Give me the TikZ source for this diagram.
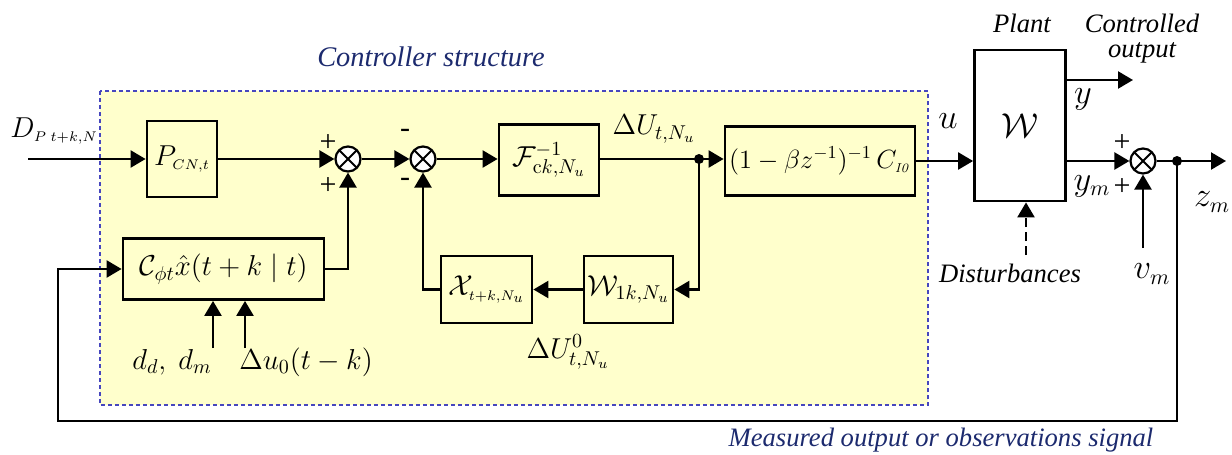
\documentclass[tikz,border=0pt]{standalone}
\usepackage[no-math]{fontspec}
\usepackage{graphicx}
\setmainfont{Liberation Serif}
\usetikzlibrary{arrows.meta}
\definecolor{boxfill}{RGB}{255,255,204}
\definecolor{dashblue}{RGB}{70,70,190}
\definecolor{navy}{RGB}{28,42,110}
\newcommand\mfont{\fontsize{14.5}{17}\selectfont}
\newcommand\lfont{\fontsize{13.3}{15}\selectfont\itshape}
\begin{document}
\begin{tikzpicture}[x=0.5pt,y=-0.5pt,
  blk/.style={draw, line width=1.4pt, fill=boxfill, inner sep=0pt, font=\mfont},
  sumc/.style={circle, draw, line width=1.1pt, fill=white, minimum size=12.5pt, inner sep=0pt,
    path picture={\draw[line width=0.9pt] (path picture bounding box.north west) -- (path picture bounding box.south east)
      (path picture bounding box.south west) -- (path picture bounding box.north east);}},
  sig/.style={line width=1.2pt},
  arr/.style={sig, -{Triangle[length=7.5pt,width=8.5pt]}},
  dotn/.style={circle, fill, minimum size=5pt, inner sep=0pt},
  mlbl/.style={font=\mfont, inner sep=0pt},
  tlbl/.style={font=\lfont, inner sep=0pt},
  sgn/.style={font=\fontsize{15}{17}\selectfont, inner sep=0pt},
  blue lbl/.style={font=\fontsize{14.2}{17}\selectfont\itshape, text=navy, inner sep=0pt}
]
\useasboundingbox (0,0) rectangle (1232,455);
% controller area
\fill[boxfill] (100,91) rectangle (928,405);
\draw[dashblue, line width=0.6pt, dash pattern=on 2pt off 1.5pt] (100,91) rectangle (928,405);
\node[blue lbl] (ctitle) at (431,57) {Controller structure};

% blocks
\node[blk, minimum width=35pt, minimum height=38pt] (P) at (182,159) {$P_{\scriptscriptstyle CN,t}$};
\node[sumc] (S1) at (348,159) {};
\node[sumc] (S2) at (423,159) {};
\node[blk, minimum width=50pt, minimum height=35.5pt] (F) at (549,160) {$\mathcal{F}^{-1}_{\mathrm{c}k,N_u}$};
\node[dotn] (d1) at (699,159) {};
\node[blk, minimum width=95pt, minimum height=34.5pt, font=\fontsize{14.2}{16}\selectfont] (R) at (820,161) {\resizebox{91pt}{!}{$(1-\beta z^{-1})^{-1}\,C_{\scriptscriptstyle\mathit{I0}}$}};
\node[draw, line width=1.4pt, fill=white, minimum width=45.5pt, minimum height=75.5pt, inner sep=0pt,
      font=\fontsize{19}{21}\selectfont] (W) at (1020,125.5) {$\mathcal{W}$};
\node[sumc] (S3) at (1143,161) {};
\node[dotn] (d2) at (1177,161) {};
\node[blk, minimum width=100.5pt, minimum height=30.5pt] (C) at (223.5,269) {$\mathcal{C}_{\phi t}\hat{x}(t+k\mid t)$};
\node[blk, minimum width=45.5pt, minimum height=33.5pt] (X) at (486.5,289.5) {$\mathcal{X}_{\scriptscriptstyle t+k,N_u}$};
\node[blk, minimum width=44.5pt, minimum height=33.5pt] (W1) at (628.5,289.5) {$\mathcal{W}_{1k,N_u}$};

% free ends
\coordinate (din) at (28,159);
\coordinate (yout) at (1133,80);
\coordinate (zout) at (1226,161);
\coordinate (vm) at (1143,248);
\coordinate (dist) at (1026,255);
\coordinate (fb1) at (1177,421);
\coordinate (fb2) at (58,421);
\coordinate (in1) at (213,348);
\coordinate (in2) at (245,348);

% connectors
\draw[arr] (din) -- (P.west);
\draw[arr] (P.east) -- (S1.west);
\draw[arr] (S1.east) -- (S2.west);
\draw[arr] (S2.east) -- (S2.east -| F.west);
\draw[sig] (F.east |- d1) -- (d1.center);
\draw[arr] (d1.center) -- (d1 -| R.west);
\draw[arr] (R.east) -- (R.east -| W.west);
\draw[arr] (W.east |- yout) -- (yout);
\draw[arr] (W.east |- S3) -- (S3.west);
\draw[arr] (S3.east) -- (zout);
\draw[arr] (vm) -- (S3.south);
\draw[arr, dash pattern=on 4.5pt off 2.5pt] (dist) -- (dist |- W.south);
\draw[arr] (d2.center) -- (fb1) -- (fb2) -- (fb2 |- C.west) -- (C.west);
\draw[arr] (C.east) -- (C.east -| S1) -- (S1.south);
\draw[arr] (in1) -- (in1 |- C.south);
\draw[arr] (in2) -- (in2 |- C.south);
\draw[arr] (d1.center) -- (d1 |- W1.east) -- (W1.east);
\draw[arr] (W1.west) -- (X.east);
\draw[arr] (X.west) -- (X.west -| S2) -- (S2.south);

% labels
\node[mlbl, font=\fontsize{15}{18}\selectfont, anchor=west] (lD) at (10,131) {$D_{\scriptscriptstyle P\;t+k,N}$};
\node[sgn] (p1) at (328,143) {+};
\node[sgn] (p2) at (328,186) {+};
\node[sgn] (m1) at (405,133) {-};
\node[sgn] (m2) at (405,182) {-};
\node[mlbl] (lDU) at (654,129) {$\Delta U_{t,N_u}$};
\node[mlbl, font=\fontsize{17}{19}\selectfont] (lu) at (948,121) {$u$};
\node[tlbl] (lplant) at (1022,23) {Plant};
\node[tlbl] (lco1) at (1142,23) {Controlled};
\node[tlbl] (lco2) at (1142,53) {output};
\node[mlbl, font=\fontsize{16}{18}\selectfont] (ly) at (1083,99) {$y$};
\node[mlbl, font=\fontsize{16}{18}\selectfont] (lym) at (1092,186) {$y_m$};
\node[sgn] (p3) at (1122,143) {+};
\node[sgn] (p4) at (1122,187) {+};
\node[mlbl, font=\fontsize{16}{18}\selectfont] (lzm) at (1212,202) {$z_m$};
\node[mlbl, font=\fontsize{16}{18}\selectfont] (lvm) at (1152,274) {$v_m$};
\node[tlbl] (ldist) at (1010,273) {Disturbances};
\node[mlbl] (ldd) at (172,362) {$d_d,\ d_m$};
\node[mlbl] (ldu0) at (306,362) {$\Delta u_0(t-k)$};
\node[mlbl] (lDU0) at (568,352) {$\Delta U^{0}_{t,N_u}$};
\node[blue lbl, font=\fontsize{13.3}{15}\selectfont\itshape] (lmeas) at (941,440) {Measured output or observations signal};
\end{tikzpicture}
\end{document}
